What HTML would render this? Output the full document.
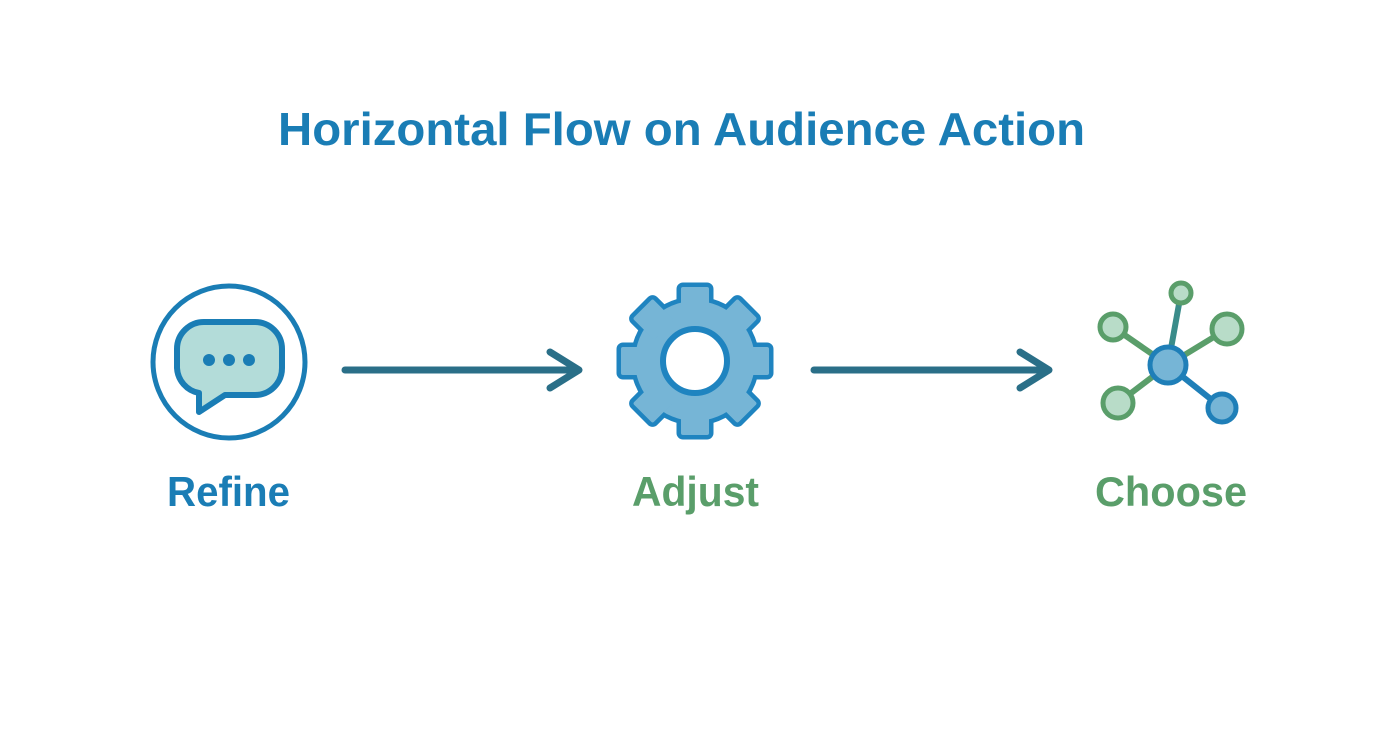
<!DOCTYPE html>
<html><head><meta charset="utf-8"><style>html,body{margin:0;padding:0;background:#fff;}svg{display:block}</style></head>
<body>
<svg width="1392" height="752" viewBox="0 0 1392 752" xmlns="http://www.w3.org/2000/svg" font-family="Liberation Sans, sans-serif" font-weight="bold">
<rect width="1392" height="752" fill="#fff"/>
<text x="278" y="145" font-size="46" fill="#1a7db5" textLength="807" lengthAdjust="spacingAndGlyphs">Horizontal Flow on Audience Action</text>

<!-- Refine -->
<circle cx="229" cy="362" r="76" fill="none" stroke="#1a7db5" stroke-width="5"/>
<path d="M205 322 H255 A27 27 0 0 1 282 349 V368 A27 27 0 0 1 255 395 H225 L199 412 V393 A27 27 0 0 1 177 368 V349 A27 27 0 0 1 205 322 Z" fill="#b3dcd9" stroke="#1a7db5" stroke-width="6" stroke-linejoin="round"/>
<circle cx="209" cy="360" r="6" fill="#1a7db5"/>
<circle cx="229" cy="360" r="6" fill="#1a7db5"/>
<circle cx="249" cy="360" r="6" fill="#1a7db5"/>
<text x="167" y="506" font-size="42" fill="#1a7db5" textLength="123" lengthAdjust="spacingAndGlyphs">Refine</text>

<!-- Arrow 1 -->
<g stroke="#2a6f88" stroke-width="7" stroke-linecap="round" stroke-linejoin="round" fill="none">
<path d="M345 370 H578"/><path d="M550 352 L579 370 L550 388"/>
</g>

<!-- Gear -->
<g transform="translate(695,361)">
<g stroke="#1f84c0" stroke-width="9" stroke-linejoin="round" fill="#1f84c0">
<circle r="60"/>
<g id="t"><rect x="-14" y="-74" width="28" height="30" rx="2"/></g>
<rect x="-14" y="-74" width="28" height="30" rx="2" transform="rotate(45)"/>
<rect x="-14" y="-74" width="28" height="30" rx="2" transform="rotate(90)"/>
<rect x="-14" y="-74" width="28" height="30" rx="2" transform="rotate(135)"/>
<rect x="-14" y="-74" width="28" height="30" rx="2" transform="rotate(180)"/>
<rect x="-14" y="-74" width="28" height="30" rx="2" transform="rotate(225)"/>
<rect x="-14" y="-74" width="28" height="30" rx="2" transform="rotate(270)"/>
<rect x="-14" y="-74" width="28" height="30" rx="2" transform="rotate(315)"/>
</g>
<g fill="#76b5d6">
<circle r="60"/>
<rect x="-14" y="-74" width="28" height="30" rx="2"/>
<rect x="-14" y="-74" width="28" height="30" rx="2" transform="rotate(45)"/>
<rect x="-14" y="-74" width="28" height="30" rx="2" transform="rotate(90)"/>
<rect x="-14" y="-74" width="28" height="30" rx="2" transform="rotate(135)"/>
<rect x="-14" y="-74" width="28" height="30" rx="2" transform="rotate(180)"/>
<rect x="-14" y="-74" width="28" height="30" rx="2" transform="rotate(225)"/>
<rect x="-14" y="-74" width="28" height="30" rx="2" transform="rotate(270)"/>
<rect x="-14" y="-74" width="28" height="30" rx="2" transform="rotate(315)"/>
</g>
<circle r="32" fill="#fff" stroke="#1f84c0" stroke-width="6"/>
</g>
<text x="632" y="506" font-size="42" fill="#5a9e6a" textLength="127" lengthAdjust="spacingAndGlyphs">Adjust</text>

<!-- Arrow 2 -->
<g stroke="#2a6f88" stroke-width="7" stroke-linecap="round" stroke-linejoin="round" fill="none">
<path d="M814 370 H1048"/><path d="M1020 352 L1049 370 L1020 388"/>
</g>

<!-- Network -->
<g stroke-width="6" stroke-linecap="round">
<line x1="1168" y1="365" x2="1181" y2="293" stroke="#3a8c8a"/>
<line x1="1168" y1="365" x2="1113" y2="327" stroke="#5a9e6a"/>
<line x1="1168" y1="365" x2="1227" y2="329" stroke="#5a9e6a"/>
<line x1="1168" y1="365" x2="1118" y2="403" stroke="#5a9e6a"/>
<line x1="1168" y1="365" x2="1222" y2="408" stroke="#1f7fb8"/>
</g>
<g stroke-width="5">
<circle cx="1181" cy="293" r="10" fill="#b8dcc8" stroke="#5a9e6a"/>
<circle cx="1113" cy="327" r="13" fill="#b8dcc8" stroke="#5a9e6a"/>
<circle cx="1227" cy="329" r="15" fill="#b8dcc8" stroke="#5a9e6a"/>
<circle cx="1118" cy="403" r="15" fill="#b8dcc8" stroke="#5a9e6a"/>
<circle cx="1222" cy="408" r="14" fill="#76b5d6" stroke="#1f7fb8"/>
<circle cx="1168" cy="365" r="18" fill="#76b5d6" stroke="#1f7fb8"/>
</g>
<text x="1095" y="506" font-size="42" fill="#5a9e6a" textLength="152" lengthAdjust="spacingAndGlyphs">Choose</text>
</svg>
</body></html>
